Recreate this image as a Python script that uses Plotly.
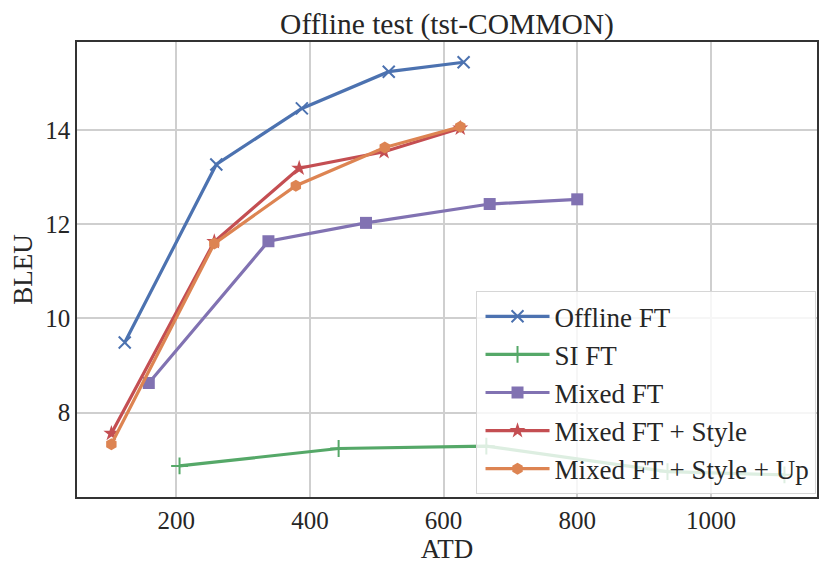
import plotly.graph_objects as go

# Data
offline_x = [123, 260, 388, 518, 630]
offline_y = [9.49, 13.27, 14.46, 15.24, 15.44]

si_x = [205, 443, 664, 935, 1110]
si_y = [6.87, 7.24, 7.29, 6.75, 6.68]

mixed_x = [159, 338, 484, 669, 800]
mixed_y = [8.63, 11.64, 12.03, 12.43, 12.53]

style_x = [103, 257, 384, 511, 625]
style_y = [7.56, 11.63, 13.19, 13.54, 14.04]

up_x = [103, 257, 379, 512, 625]
up_y = [7.33, 11.59, 12.82, 13.63, 14.07]

series = [
    ("Offline FT", offline_x, offline_y, "#4C72B0", "x-thin", 12),
    ("SI FT", si_x, si_y, "#55A868", "cross-thin", 12),
    ("Mixed FT", mixed_x, mixed_y, "#8172B2", "square", 12),
    ("Mixed FT + Style", style_x, style_y, "#C44E52", "star", 12),
    ("Mixed FT + Style + Up", up_x, up_y, "#DD8452", "hexagon", 12),
]

FONT = "Liberation Serif, Times New Roman, serif"
TXT = "#262626"

fig = go.Figure()
for name, xs, ys, col, sym, sz in series:
    fig.add_trace(go.Scatter(
        x=xs, y=ys, name=name, mode="lines+markers",
        line=dict(color=col, width=3.2),
        marker=dict(symbol=sym, size=sz, color=col,
                    line=dict(color=col, width=2 if "thin" in sym else 0)),
    ))

axis_common = dict(
    showgrid=True, gridcolor="#cfcfcf", gridwidth=2,
    showline=True, linecolor="#333333", linewidth=1.6, mirror=True,
    zeroline=False, ticks="", tickfont=dict(family=FONT, size=25, color=TXT),
    title_font=dict(family=FONT, size=27, color=TXT),
)

fig.update_layout(
    width=831, height=573,
    margin=dict(l=77, r=12, t=42, b=76),
    paper_bgcolor="white", plot_bgcolor="white",
    font=dict(family=FONT, color=TXT),
    title=dict(text="Offline test (tst-COMMON)", x=0.5, xref="paper",
               xanchor="center", y=0.958, yref="container", yanchor="middle",
               font=dict(family=FONT, size=29.5, color=TXT)),
    xaxis=dict(range=[51.6, 1158.7], tickvals=[200, 400, 600, 800, 1000],
               title=dict(text="ATD", standoff=0), **axis_common),
    yaxis=dict(range=[6.21, 15.87], tickvals=[8, 10, 12, 14],
               title=dict(text="BLEU", standoff=5), **axis_common),
    legend=dict(x=0.998, xanchor="right", y=0.006, yanchor="bottom",
                bgcolor="rgba(255,255,255,0.8)", bordercolor="#d6d6d6", borderwidth=1,
                font=dict(family=FONT, size=27, color=TXT), itemwidth=64,
                indentation=4, tracegroupgap=0),
    showlegend=True,
)

fig.write_html("out.html", config={"displayModeBar": False},
               post_script="document.body.style.margin='0';document.body.style.overflow='hidden';")
